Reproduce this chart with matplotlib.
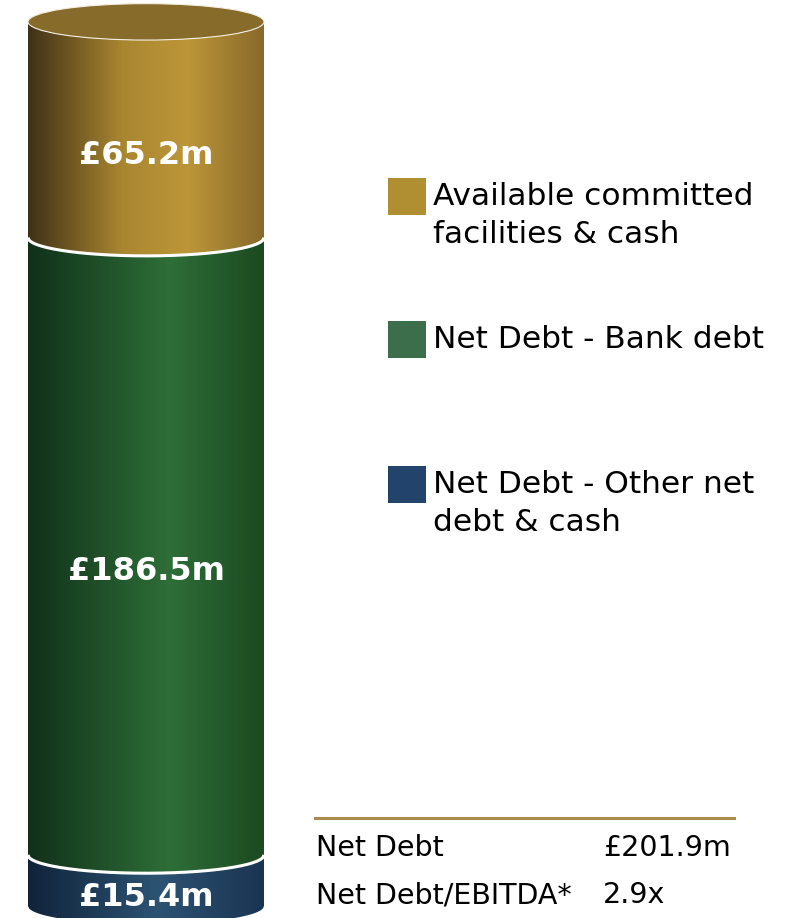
import numpy as np
import matplotlib.pyplot as plt
from matplotlib.patches import Ellipse, Polygon, Rectangle
from matplotlib.colors import to_rgb

# stacked funding, bottom to top (GBP m)
segments = ['Net Debt - Other net\ndebt & cash',
            'Net Debt - Bank debt',
            'Available committed\nfacilities & cash']
values = [15.4, 186.5, 65.2]
value_labels = ['£15.4m', '£186.5m', '£65.2m']

summary_names = ['Net Debt', 'Net Debt/EBITDA*']
summary_values = ['£201.9m', '2.9x']

# shading across the cylinder: (position, colour) stops per segment
shades = [
    [(0.0, '#10233a'), (0.55, '#2d5373'), (1.0, '#1a3452')],
    [(0.0, '#10301a'), (0.6, '#2e6e38'), (1.0, '#1c4a21')],
    [(0.0, '#3f3118'), (0.4, '#a98630'), (0.68, '#bc9638'), (1.0, '#87692b')],
]
legend_colors = ['#22436a', '#3d6e4c', '#b08e32']
legend_rows = [466, 321, 178]   # pixel rows of the legend boxes (top)

W, H = 786, 918
fig = plt.figure(figsize=(W / 100, H / 100), dpi=100)
ax = fig.add_axes([0, 0, 1, 1])
ax.set_xlim(0, W)
ax.set_ylim(-3.63, 273.7)
ax.axis('off')

CX, RX = 146, 118     # cylinder centre / half width (x units)
B = 5.5               # ellipse half height (value units)


def front_arc(level, n=200):
    xs = np.linspace(CX - RX, CX + RX, n)
    ys = level - B * np.sqrt(np.clip(1 - ((xs - CX) / RX) ** 2, 0, None))
    return xs, ys


def gradient(stops, n=400):
    pos = np.linspace(0, 1, n)
    p = [s[0] for s in stops]
    cols = np.array([to_rgb(s[1]) for s in stops])
    img = np.stack([np.interp(pos, p, cols[:, k]) for k in range(3)], axis=-1)
    return img[np.newaxis, :, :]


bottoms = np.concatenate([[0], np.cumsum(values)[:-1]])
tops = np.cumsum(values)

for lo, hi, stops, lab in zip(bottoms, tops, shades, value_labels):
    xt, yt = front_arc(hi)
    xb, yb = front_arc(lo)
    verts = np.vstack([np.column_stack([xt, yt]),
                       np.column_stack([xb[::-1], yb[::-1]])])
    face = Polygon(verts, closed=True, facecolor='none', edgecolor='none')
    ax.add_patch(face)
    im = ax.imshow(gradient(stops), extent=(CX - RX, CX + RX, lo - B - 1, hi + 1),
                   aspect='auto', interpolation='bilinear', zorder=1)
    im.set_clip_path(face)
    # keep the bottom label clear of the lower edge
    ty = max((lo + hi) / 2 - B - 2.2, 2.6)
    ax.text(CX, ty, lab, color='white', fontsize=23,
            fontweight='bold', ha='center', va='center', zorder=4)

# white seams between the stacked segments
for lvl in tops[:-1]:
    xs, ys = front_arc(lvl)
    ax.plot(xs, ys, color='white', lw=2.2, zorder=3, solid_capstyle='butt')

# lid of the cylinder
ax.add_patch(Ellipse((CX, tops[-1]), 2 * RX, 2 * B, facecolor='#876b2b',
                     edgecolor='#f4efe2', lw=0.8, zorder=2))


def fx(px):
    return px / W


def fy(py):
    return 1 - py / H


# legend
for name, col, row in zip(segments, legend_colors, legend_rows):
    fig.patches.append(Rectangle((fx(388), fy(row + 37)), 38 / W, 37 / H,
                                 transform=fig.transFigure, facecolor=col,
                                 edgecolor='none'))
    for k, line in enumerate(name.split('\n')):
        fig.text(fx(433), fy(row + 27 + 38 * k), line, fontsize=22.5,
                 color='black', ha='left', va='baseline')

# summary table
fig.add_artist(plt.Line2D([fx(315), fx(734)], [fy(818), fy(818)],
                          transform=fig.transFigure, color='#a88c4c', lw=2.2))
for i, (n, v) in enumerate(zip(summary_names, summary_values)):
    yy = fy(856 + 47 * i)
    fig.text(fx(316), yy, n, fontsize=20.5, ha='left', va='baseline')
    fig.text(fx(603), yy, v, fontsize=20.5, ha='left', va='baseline')

fig.savefig('out.png', dpi=100, facecolor='white')
